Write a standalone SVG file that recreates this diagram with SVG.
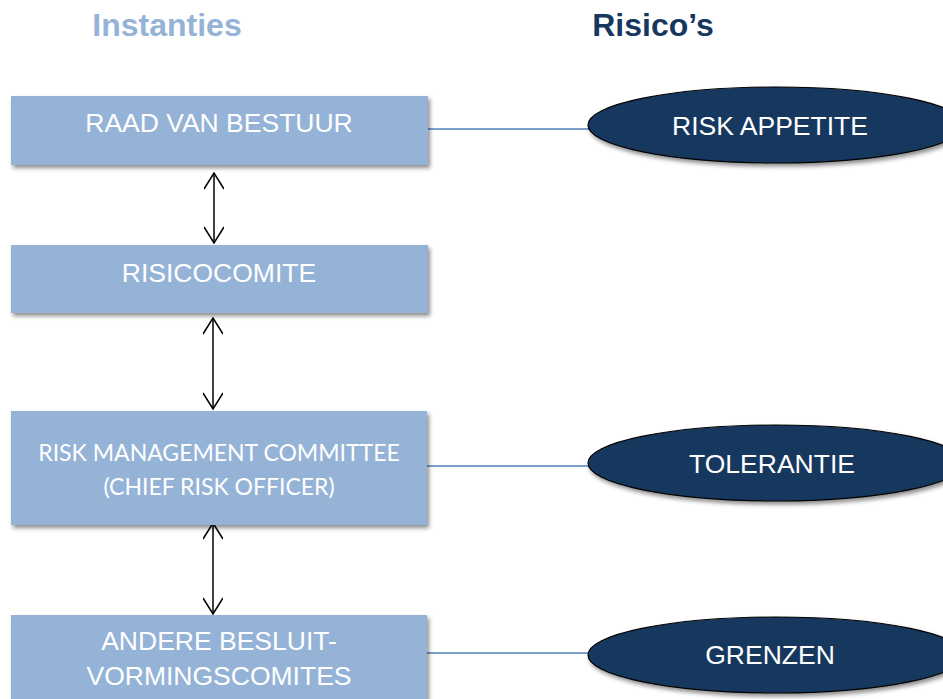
<svg xmlns="http://www.w3.org/2000/svg" width="943" height="699" viewBox="0 0 943 699">
  <defs>
    <filter id="shadow" x="-10%" y="-20%" width="130%" height="150%">
      <feDropShadow dx="2" dy="3" stdDeviation="2" flood-color="#000" flood-opacity="0.45"/>
    </filter>
    <marker id="head" viewBox="0 0 18 20" refX="17" refY="10" markerWidth="18" markerHeight="20" markerUnits="userSpaceOnUse" orient="auto-start-reverse">
      <polyline points="1,0 17,10 1,20" fill="none" stroke="#000" stroke-width="1.5"/>
    </marker>
  </defs>
  <style>
    .title { font-family: "Liberation Sans", Arial, sans-serif; font-weight: bold; font-size: 32px; text-anchor: middle; }
    .box { fill: #95b3d7; filter: url(#shadow); }
    .boxtxt { font-family: "Liberation Sans", Arial, sans-serif; font-size: 26.5px; fill: #fff; text-anchor: middle; }
    .boxtxt2 { font-family: Lato, "Open Sans", sans-serif; font-size: 23px; fill: #fff; text-anchor: middle; }
    .oval { fill: #17375e; stroke: #000; stroke-width: 1.2; filter: url(#shadow); }
    .ovaltxt { font-family: "Liberation Sans", Arial, sans-serif; font-size: 26.5px; fill: #fff; text-anchor: middle; }
    .link { stroke: #4f81bd; stroke-width: 1.5; fill: none; }
    .arrow { stroke: #000; stroke-width: 1.5; fill: none; marker-start: url(#head); marker-end: url(#head); }
  </style>

  <rect width="943" height="699" fill="#fff"/>

  <!-- column headings -->
  <text class="title" x="167" y="36" fill="#95b3d7">Instanties</text>
  <text class="title" x="653" y="36" fill="#17375e">Risico’s</text>

  <!-- connectors -->
  <g id="connectors">
    <line class="link" x1="428" y1="129" x2="590" y2="129"/>
    <line class="link" x1="427" y1="466" x2="590" y2="466"/>
    <line class="link" x1="427" y1="653" x2="590" y2="653"/>
    <line class="arrow" x1="214" y1="173" x2="214" y2="243"/>
    <line class="arrow" x1="213" y1="318" x2="213" y2="409"/>
    <line class="arrow" x1="213" y1="523" x2="213" y2="614"/>
  </g>

  <!-- bodies -->
  <g id="raad-van-bestuur">
    <rect class="box" x="11" y="96" width="417" height="69"/>
    <text class="boxtxt" x="219" y="132">RAAD VAN BESTUUR</text>
  </g>
  <g id="risicocomite">
    <rect class="box" x="11" y="245" width="417" height="68"/>
    <text class="boxtxt" x="219" y="282">RISICOCOMITE</text>
  </g>
  <g id="risk-management-committee">
    <rect class="box" x="11" y="411" width="416" height="114"/>
    <text class="boxtxt2" x="219" y="461">RISK MANAGEMENT COMMITTEE</text>
    <text class="boxtxt2" x="219" y="495">(CHIEF RISK OFFICER)</text>
  </g>
  <g id="andere-besluitvormingscomites">
    <rect class="box" x="11" y="615" width="416" height="100"/>
    <text class="boxtxt" x="219" y="650">ANDERE BESLUIT-</text>
    <text class="boxtxt" x="219" y="685">VORMINGSCOMITES</text>
  </g>

  <!-- risk levels -->
  <g id="risk-appetite">
    <ellipse class="oval" cx="776" cy="125" rx="188" ry="38"/>
    <text class="ovaltxt" x="770" y="135">RISK APPETITE</text>
  </g>
  <g id="tolerantie">
    <ellipse class="oval" cx="776" cy="463" rx="188" ry="38"/>
    <text class="ovaltxt" x="772" y="473">TOLERANTIE</text>
  </g>
  <g id="grenzen">
    <ellipse class="oval" cx="776" cy="655" rx="188" ry="38"/>
    <text class="ovaltxt" x="770" y="664">GRENZEN</text>
  </g>
</svg>
